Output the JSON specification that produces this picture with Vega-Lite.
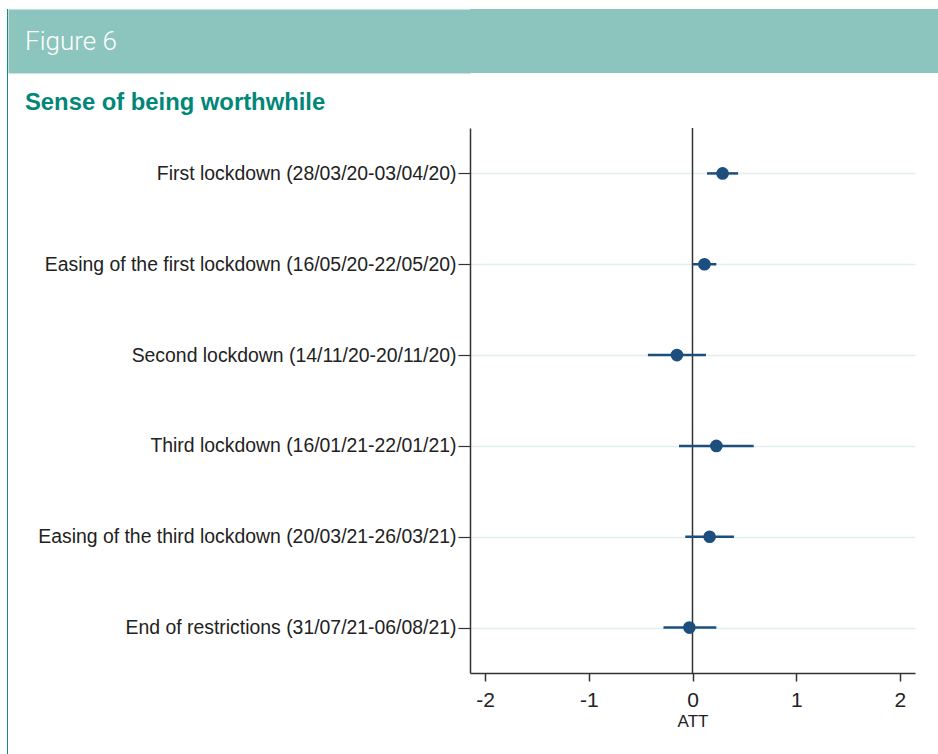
{
  "$schema": "https://vega.github.io/schema/vega-lite/v6.json",
  "padding": {"left": 7, "top": 9, "right": 0, "bottom": 0},
  "background": "white",
  "spacing": 0,
  "config": {"font": "Liberation Sans", "concat": {"spacing": 0}},
  "hconcat": [
    {
      "width": 1,
      "height": 745,
      "view": {"fill": "#1b8c82", "stroke": null},
      "data": {"values": []},
      "mark": "point",
      "encoding": {}
    },
    {
      "vconcat": [
        {
          "width": 468,
          "height": 64,
          "view": {"fill": "#8cc4be", "stroke": null},
          "data": {"values": [{"label": "Figure 6", "px": 0, "py": 0.5}]},
          "mark": {"type": "text", "align": "left", "baseline": "middle", "color": "white", "font": "Roboto", "fontWeight": 300, "fontSize": 26, "dx": -445, "dy": 1},
          "encoding": {
            "text": {"field": "label"},
            "x": {"field": "px", "type": "quantitative", "scale": {"domain": [0, 1]}, "axis": null},
            "y": {
              "field": "py",
              "type": "quantitative",
              "scale": {"domain": [0, 1]},
              "axis": {
                "title": null,
                "labels": false,
                "ticks": false,
                "grid": false,
                "offset": 231,
                "domainWidth": 462,
                "domainCap": "butt",
                "domainColor": "#8cc4be",
                "minExtent": 0,
                "maxExtent": 0
              }
            }
          }
        },
        {
          "width": 445,
          "height": 545,
          "title": {
            "text": "Sense of being worthwhile",
            "anchor": "start",
            "frame": "group",
            "dx": -445,
            "offset": 12,
            "fontSize": 23.8,
            "fontWeight": "bold",
            "color": "#00877a",
            "font": "Liberation Sans"
          },
          "view": {"stroke": null},
          "data": {
            "values": [
              {"period": "First lockdown (28/03/20-03/04/20)", "att": 0.29, "lo": 0.14, "hi": 0.44},
              {"period": "Easing of the first lockdown (16/05/20-22/05/20)", "att": 0.115, "lo": 0.0, "hi": 0.23},
              {"period": "Second lockdown (14/11/20-20/11/20)", "att": -0.15, "lo": -0.43, "hi": 0.13},
              {"period": "Third lockdown (16/01/21-22/01/21)", "att": 0.23, "lo": -0.13, "hi": 0.59},
              {"period": "Easing of the third lockdown (20/03/21-26/03/21)", "att": 0.165, "lo": -0.07, "hi": 0.4},
              {"period": "End of restrictions (31/07/21-06/08/21)", "att": -0.03, "lo": -0.28, "hi": 0.23}
            ]
          },
          "encoding": {
            "y": {
              "field": "period",
              "type": "nominal",
              "sort": null,
              "scale": {"type": "point", "padding": 0.5},
              "axis": {
                "title": null,
                "labelFontSize": 19.4,
                "labelColor": "#222222",
                "labelPadding": 2,
                "tickSize": 12,
                "tickColor": "#333333",
                "tickWidth": 1.2,
                "domainColor": "#333333",
                "domainWidth": 1.5,
                "grid": true,
                "gridColor": "#e3eef0",
                "gridWidth": 1.5,
                "labelLimit": 500,
                "minExtent": 462
              }
            }
          },
          "layer": [
            {
              "data": {"values": [{"z": 0}]},
              "mark": {"type": "rule", "color": "#333333", "strokeWidth": 1.5},
              "encoding": {
                "x": {"field": "z", "type": "quantitative"},
                "y": null
              }
            },
            {
              "mark": {"type": "rule", "color": "#1d4f7e", "strokeWidth": 2.5},
              "encoding": {
                "x": {
                  "field": "lo",
                  "type": "quantitative",
                  "scale": {"domain": [-2.145, 2.145], "nice": false, "zero": false},
                  "axis": {
                    "title": "ATT",
                    "titleFontSize": 17,
                    "titleFontWeight": "normal",
                    "titleColor": "#222222",
                    "titlePadding": 3,
                    "values": [-2, -1, 0, 1, 2],
                    "labelExpr": "'' + datum.value",
                    "labelFontSize": 21,
                    "labelColor": "#222222",
                    "labelPadding": 8,
                    "tickSize": 8,
                    "tickColor": "#333333",
                    "tickWidth": 1.5,
                    "domainColor": "#333333",
                    "domainWidth": 1.5,
                    "grid": false
                  }
                },
                "x2": {"field": "hi"}
              }
            },
            {
              "mark": {"type": "circle", "color": "#1d4f7e", "opacity": 1, "size": 160},
              "encoding": {
                "x": {"field": "att", "type": "quantitative"}
              }
            }
          ]
        }
      ],
      "spacing": 18
    }
  ]
}
